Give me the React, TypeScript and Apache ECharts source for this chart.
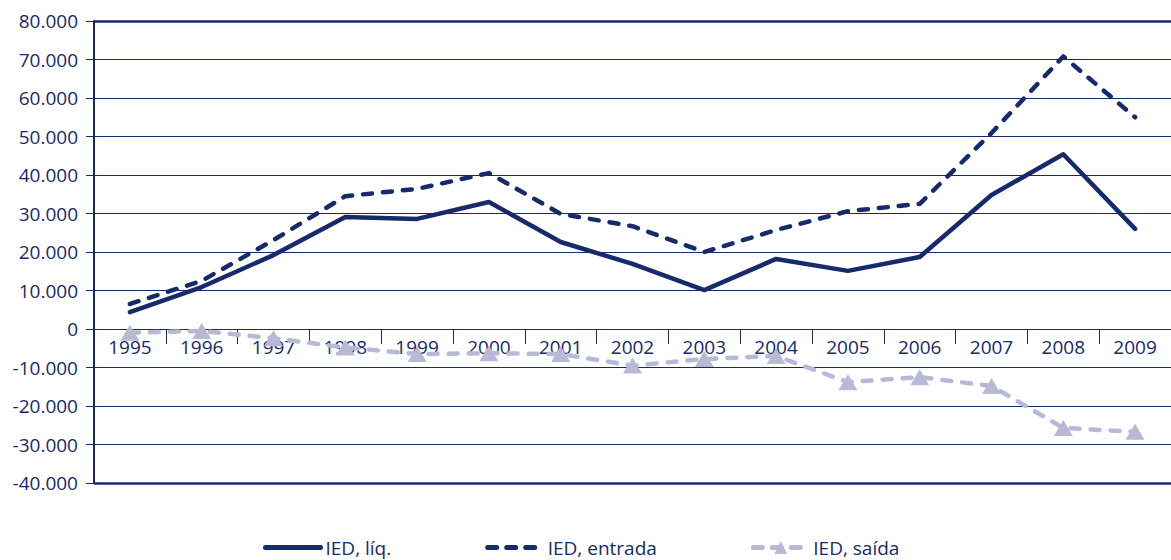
import React, { useEffect, useRef } from "react";
import * as echarts from "echarts";

const years = ["1995","1996","1997","1998","1999","2000","2001","2002","2003","2004","2005","2006","2007","2008","2009"];
const iedLiq = [4400, 10900, 19200, 29100, 28600, 33000, 22600, 16900, 10100, 18200, 15100, 18700, 34800, 45400, 26000];
const iedEntrada = [6500, 12500, 23100, 34500, 36400, 40500, 29900, 26700, 20000, 25700, 30600, 32500, 50900, 70800, 55000];
const iedSaida = [-1000, -500, -2400, -4800, -6500, -6300, -6500, -9500, -7800, -7000, -13800, -12500, -14800, -25700, -26700];
const yTicks = { min: -40000, max: 80000, interval: 10000 };

const NAVY = "#172a6b";
const LIGHT = "#b7b9d6";
const FONT = "Open Sans";
const DASH = [9, 11];

const W = 1171;
const H = 560;
const GRID = { left: 94, right: 0, top: 21, bottom: 77 };

function fmt(v: number): string {
  const s = Math.abs(v).toString().replace(/\B(?=(\d{3})+(?!\d))/g, ".");
  return (v < 0 ? "-" : "") + s;
}

export default function App() {
  const ref = useRef<HTMLDivElement>(null);
  useEffect(() => {
    if (!ref.current) return;
    const chart = echarts.init(ref.current, undefined, { renderer: "svg" });
    const gridH = H - GRID.top - GRID.bottom;
    const zeroOffset = (gridH * (0 - yTicks.min)) / (yTicks.max - yTicks.min);
    chart.setOption({
      animation: false,
      backgroundColor: "#ffffff",
      textStyle: { fontFamily: FONT },
      grid: { ...GRID, containLabel: false },
      legend: {
        bottom: -2,
        left: 258,
        itemWidth: 55,
        itemHeight: 16,
        itemGap: 94,
        textStyle: { color: NAVY, fontSize: 19, fontFamily: FONT },
        data: [
          { name: "IED, líq.", itemStyle: { opacity: 0 }, lineStyle: { width: 5, type: "solid", cap: "round" } },
          { name: "IED, entrada", itemStyle: { opacity: 0 }, lineStyle: { width: 5, type: [9, 10], cap: "round" } },
          { name: "IED, saída", lineStyle: { width: 5, type: [9, 10], cap: "round" } },
        ],
      },
      xAxis: {
        type: "category",
        data: years,
        boundaryGap: true,
        position: "bottom",
        offset: -zeroOffset,
        axisLine: { show: true, onZero: false, lineStyle: { color: NAVY, width: 1 } },
        axisTick: { show: true, length: 15, lineStyle: { color: NAVY, width: 1 } },
        axisLabel: { color: NAVY, fontSize: 19, margin: 8, fontFamily: FONT, interval: 0 },
        splitLine: { show: false },
      },
      yAxis: {
        type: "value",
        min: yTicks.min,
        max: yTicks.max,
        interval: yTicks.interval,
        axisLine: { show: true, lineStyle: { color: NAVY, width: 2 } },
        axisTick: { show: true, length: 8, lineStyle: { color: NAVY, width: 1 } },
        axisLabel: { color: NAVY, fontSize: 19, margin: 16, fontFamily: FONT, formatter: (v: number) => fmt(v) },
        splitLine: { show: true, lineStyle: { color: NAVY, width: 1 } },
      },
      series: [
        {
          name: "IED, líq.",
          type: "line",
          data: iedLiq,
          symbol: "none",
          lineStyle: { color: NAVY, width: 4.5, cap: "round", join: "round" },
          itemStyle: { color: NAVY },
          z: 4,
          markLine: {
            silent: true,
            symbol: "none",
            label: { show: false },
            lineStyle: { color: NAVY, width: 2.5, type: "solid" },
            data: [{ yAxis: yTicks.max }, { yAxis: yTicks.min }],
          },
        },
        {
          name: "IED, entrada",
          type: "line",
          data: iedEntrada,
          symbol: "none",
          lineStyle: { color: NAVY, width: 4.5, type: DASH, cap: "round", join: "round" },
          itemStyle: { color: NAVY },
          z: 4,
        },
        {
          name: "IED, saída",
          type: "line",
          data: iedSaida,
          symbol: "triangle",
          symbolSize: [19, 16],
          showSymbol: true,
          lineStyle: { color: LIGHT, width: 4.5, type: DASH, cap: "round", join: "round" },
          itemStyle: { color: LIGHT },
          z: 3,
        },
      ],
    });
    return () => chart.dispose();
  }, []);
  return (
    <div
      ref={ref}
      style={{ position: "fixed", left: 0, top: 0, width: W, height: H, background: "#fff" }}
    />
  );
}
